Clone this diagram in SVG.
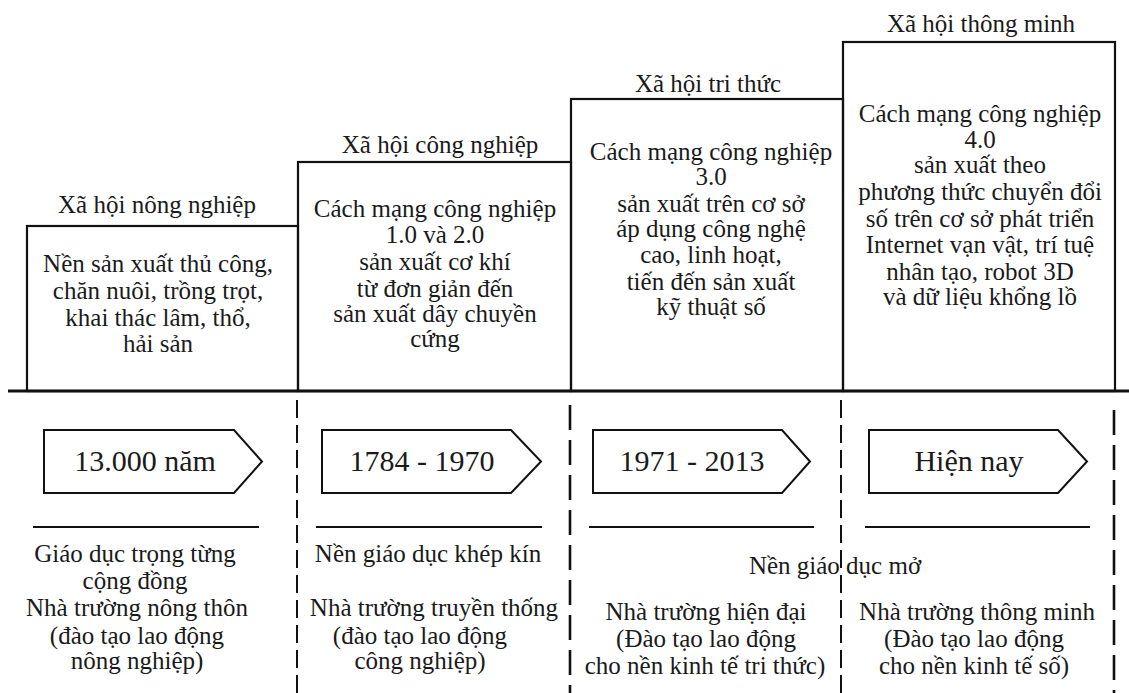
<svg xmlns="http://www.w3.org/2000/svg" width="1129" height="693" viewBox="0 0 1129 693" font-family="Liberation Serif, Times New Roman, Tinos, serif">
<style>
text{fill:#1a1a1a;text-anchor:middle}
.t{font-size:25px}
.b{font-size:25px}
.a{font-size:30px}
.box{fill:none;stroke:#111;stroke-width:2.2}
.arr{fill:#fff;stroke:#111;stroke-width:2}
.sep{stroke:#111;stroke-width:2}
.dash{stroke:#111;stroke-width:2;stroke-dasharray:18 7}
.dash2{stroke:#111;stroke-width:2.6;stroke-dasharray:25 10}
</style>
<rect width="1129" height="693" fill="#fff"/>
<g id="era1">
<rect class="box" x="27" y="226" width="271" height="165"/>
<text class="t" x="157" y="213">Xã hội nông nghiệp</text>
<text class="b" x="158" y="272">Nền sản xuất thủ công,</text>
<text class="b" x="158" y="299">chăn nuôi, trồng trọt,</text>
<text class="b" x="158" y="326">khai thác lâm, thổ,</text>
<text class="b" x="158" y="352">hải sản</text>
</g>
<g id="era2">
<rect class="box" x="298" y="162" width="273" height="229"/>
<text class="t" x="440" y="153">Xã hội công nghiệp</text>
<text class="b" x="435" y="217">Cách mạng công nghiệp</text>
<text class="b" x="435" y="243">1.0 và 2.0</text>
<text class="b" x="435" y="270">sản xuất cơ khí</text>
<text class="b" x="435" y="297">từ đơn giản đến</text>
<text class="b" x="435" y="322">sản xuất dây chuyền</text>
<text class="b" x="435" y="347">cứng</text>
</g>
<g id="era3">
<rect class="box" x="571" y="99" width="272" height="292"/>
<text class="t" x="708" y="92">Xã hội tri thức</text>
<text class="b" x="711" y="160">Cách mạng công nghiệp</text>
<text class="b" x="711" y="185">3.0</text>
<text class="b" x="711" y="212">sản xuất trên cơ sở</text>
<text class="b" x="711" y="237">áp dụng công nghệ</text>
<text class="b" x="711" y="263">cao, linh hoạt,</text>
<text class="b" x="711" y="290">tiến đến sản xuất</text>
<text class="b" x="711" y="315">kỹ thuật số</text>
</g>
<g id="era4">
<rect class="box" x="843" y="42" width="272" height="349"/>
<text class="t" x="981" y="32">Xã hội thông minh</text>
<text class="b" x="980" y="122">Cách mạng công nghiệp</text>
<text class="b" x="980" y="148">4.0</text>
<text class="b" x="980" y="173">sản xuất theo</text>
<text class="b" x="980" y="200">phương thức chuyển đổi</text>
<text class="b" x="980" y="227">số trên cơ sở phát triển</text>
<text class="b" x="980" y="253">Internet vạn vật, trí tuệ</text>
<text class="b" x="980" y="280">nhân tạo, robot 3D</text>
<text class="b" x="980" y="305">và dữ liệu khổng lồ</text>
</g>
<g id="connectors">
<line x1="8" y1="391" x2="1129" y2="391" stroke="#111" stroke-width="3"/>
<line class="dash" x1="297" y1="400" x2="297" y2="693"/>
<line class="dash2" x1="570" y1="405" x2="570" y2="693"/>
<line class="dash" x1="841" y1="400" x2="841" y2="693"/>
<line class="dash2" x1="1114" y1="410" x2="1114" y2="693"/>
<line class="sep" x1="33" y1="527" x2="259" y2="527"/>
<line class="sep" x1="316" y1="527" x2="542" y2="527"/>
<line class="sep" x1="589" y1="527" x2="814" y2="527"/>
<line class="sep" x1="865" y1="527" x2="1090" y2="527"/>
</g>
<g id="period1">
<polygon class="arr" points="44,430 234,430 262,461.5 234,493 44,493"/>
<text class="a" x="145" y="471">13.000 năm</text>
</g>
<g id="period2">
<polygon class="arr" points="322,430 511,430 541,461.5 511,493 322,493"/>
<text class="a" x="422" y="471">1784 - 1970</text>
</g>
<g id="period3">
<polygon class="arr" points="593,430 782,430 810,461.5 782,493 593,493"/>
<text class="a" x="692" y="471">1971 - 2013</text>
</g>
<g id="period4">
<polygon class="arr" points="869,430 1058,430 1087,461.5 1058,493 869,493"/>
<text class="a" x="969" y="471">Hiện nay</text>
</g>
<g id="edu1">
<text class="b" x="135" y="562">Giáo dục trọng từng</text>
<text class="b" x="135" y="589">cộng đồng</text>
<text class="b" x="137" y="616">Nhà trường nông thôn</text>
<text class="b" x="137" y="644">(đào tạo lao động</text>
<text class="b" x="137" y="669">nông nghiệp)</text>
</g>
<g id="edu2">
<text class="b" x="428" y="562">Nền giáo dục khép kín</text>
<text class="b" x="434" y="616">Nhà trường truyền thống</text>
<text class="b" x="420" y="644">(đào tạo lao động</text>
<text class="b" x="420" y="669">công nghiệp)</text>
</g>
<g id="edu-open">
<text class="b" x="835" y="574">Nền giáo dục mở</text>
</g>
<g id="edu3">
<text class="b" x="706" y="620">Nhà trường hiện đại</text>
<text class="b" x="706" y="647">(Đào tạo lao động</text>
<text class="b" x="705" y="674">cho nền kinh tế tri thức)</text>
</g>
<g id="edu4">
<text class="b" x="977" y="620">Nhà trường thông minh</text>
<text class="b" x="974" y="647">(Đào tạo lao động</text>
<text class="b" x="974" y="674">cho nền kinh tế số)</text>
</g>
</svg>
